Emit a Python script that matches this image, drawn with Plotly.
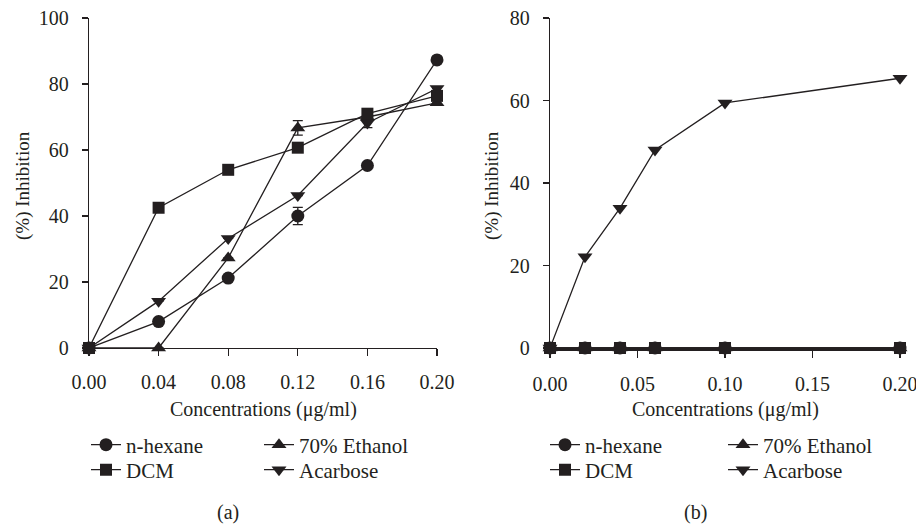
import plotly.graph_objects as go

W, H = 916, 527

# ---------------- data ----------------
conc_a = [0.00, 0.04, 0.08, 0.12, 0.16, 0.20]
hexane_a = [0, 8.0, 21.2, 40.0, 55.3, 87.3]
hexane_a_err = [0, 0, 0, 2.6, 0, 0]
ethanol_a = [0, 0, 27.3, 66.7, 70.0, 74.3]
ethanol_a_err = [0, 0, 0, 2.2, 0, 0]
dcm_a = [0, 42.5, 54.0, 60.7, 71.0, 76.4]
dcm_a_err = [0, 0, 0, 0, 0, 0]
acarbose_a = [0, 14.2, 33.2, 46.2, 68.2, 78.6]
acarbose_a_err = [0, 0, 0, 0, 1.4, 0]

conc_b = [0.00, 0.02, 0.04, 0.06, 0.10, 0.20]
hexane_b = [0, 0, 0, 0, 0, 0]
ethanol_b = [0, 0, 0, 0, 0, 0]
dcm_b = [0, 0, 0, 0, 0, 0]
acarbose_b = [0, 22.1, 33.9, 48.0, 59.4, 65.4]

ticks_a_x = [0.00, 0.04, 0.08, 0.12, 0.16, 0.20]
ticks_a_y = [0, 20, 40, 60, 80, 100]
ticks_b_x = [0.00, 0.05, 0.10, 0.15, 0.20]
ticks_b_y = [0, 20, 40, 60, 80]

FONT = "Liberation Serif"
INK = "#231f20"

def px_x(p):
    return p / W

def px_y(p):
    return 1 - p / H

series_style = {
    "n-hexane": dict(symbol="circle", size=13),
    "70% Ethanol": dict(symbol="triangle-up", size=13),
    "Acarbose": dict(symbol="triangle-down", size=13),
    "DCM": dict(symbol="square", size=12),
}

fig = go.Figure()

def add(name, x, y, err, xa, ya, legend):
    st = series_style[name]
    tr = dict(
        x=x, y=y, name=name, mode="lines+markers",
        xaxis=xa, yaxis=ya, legend=legend,
        line=dict(color=INK, width=1.3),
        marker=dict(symbol=st["symbol"], size=st["size"], color=INK,
                    line=dict(width=0)),
        cliponaxis=False,
    )
    if err is not None:
        tr["error_y"] = dict(type="data", array=err, visible=True,
                             color=INK, thickness=1.3, width=5)
    fig.add_trace(go.Scatter(**tr))

# panel (a)
add("n-hexane", conc_a, hexane_a, hexane_a_err, "x", "y", "legend")
add("70% Ethanol", conc_a, ethanol_a, ethanol_a_err, "x", "y", "legend2")
add("Acarbose", conc_a, acarbose_a, acarbose_a_err, "x", "y", "legend4")
add("DCM", conc_a, dcm_a, dcm_a_err, "x", "y", "legend3")
# panel (b)
add("n-hexane", conc_b, hexane_b, None, "x2", "y2", "legend5")
add("70% Ethanol", conc_b, ethanol_b, None, "x2", "y2", "legend6")
add("Acarbose", conc_b, acarbose_b, None, "x2", "y2", "legend8")
add("DCM", conc_b, dcm_b, None, "x2", "y2", "legend7")

tickfont = dict(family=FONT, size=20, color=INK)
axis_common = dict(showgrid=False, zeroline=False, showline=True,
                   linecolor=INK, ticks="outside", automargin=False,
                   ticklabeloverflow="allow",
                   tickcolor=INK, tickwidth=1.3, tickfont=tickfont)

plot_top, plot_bot = 18, 348
ydom = [px_y(plot_bot), px_y(plot_top)]

fig.update_layout(
    width=W, height=H,
    margin=dict(l=0, r=0, t=0, b=0, autoexpand=False),
    paper_bgcolor="white", plot_bgcolor="white",
    showlegend=True,
    xaxis=dict(domain=[px_x(89), px_x(437)], range=[0, 0.2],
               tickvals=ticks_a_x, ticktext=[f"{v:.2f}" for v in ticks_a_x],
               anchor="y", ticklen=7, ticklabelstandoff=9, linewidth=1.3,
               **axis_common),
    yaxis=dict(domain=ydom, range=[0, 100], tickvals=ticks_a_y,
               anchor="x", ticklen=6, ticklabelstandoff=9, linewidth=1.3,
               **axis_common),
    xaxis2=dict(domain=[px_x(550), px_x(900)], range=[0, 0.2],
                tickvals=ticks_b_x, ticktext=[f"{v:.2f}" for v in ticks_b_x],
                anchor="y2", ticklen=7, ticklabelstandoff=9, linewidth=2.6,
                **axis_common),
    yaxis2=dict(domain=ydom, range=[0, 80], tickvals=ticks_b_y,
                anchor="x2", ticklen=6, ticklabelstandoff=9, linewidth=1.3,
                **axis_common),
)

legfont = dict(family=FONT, size=21, color=INK)
def leg(xp, yp):
    return dict(x=px_x(xp), y=px_y(yp), xanchor="left", yanchor="middle",
                orientation="v", font=legfont, bgcolor="rgba(0,0,0,0)",
                borderwidth=0, itemwidth=30)

row1, row2 = 445, 470
fig.update_layout(
    legend=leg(86, row1),
    legend2=leg(259, row1),
    legend3=leg(86, row2),
    legend4=leg(259, row2),
    legend5=leg(545, row1),
    legend6=leg(723, row1),
    legend7=leg(545, row2),
    legend8=leg(723, row2),
)

ann = []
def add_ann(text, xp, yp, size, angle=0):
    ann.append(dict(text=text, x=px_x(xp), y=px_y(yp), xref="paper",
                    yref="paper", showarrow=False,
                    font=dict(family=FONT, size=size, color=INK),
                    textangle=angle, xanchor="center", yanchor="middle"))

add_ann("Concentrations (μg/ml)", 263, 409, 20)
add_ann("Concentrations (μg/ml)", 725, 409, 20)
add_ann("(%) Inhibition", 23, 186, 19, -90)
add_ann("(%) Inhibition", 492, 186, 19, -90)
add_ann("(a)", 228, 512, 20)
add_ann("(b)", 695, 512, 20)
fig.update_layout(annotations=ann)

fig.write_html(
    "out.html",
    config={"displayModeBar": False, "staticPlot": True},
    post_script="document.body.style.margin='0';document.body.style.overflow='hidden';",
)
